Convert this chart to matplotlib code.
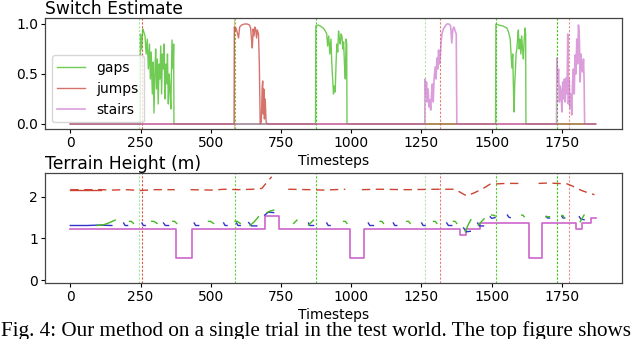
import matplotlib
matplotlib.use("Agg")
import matplotlib.pyplot as plt
import numpy as np

nan = np.nan

# ---- switch estimate (top) ----
gaps_t = [0, 249,
          250, 254, 258, 262, 266, 270, 274, 278, 282, 285, 288, 292, 295, 298, 301, 304,
          307, 310, 313, 316, 319, 322, 325, 328, 331, 334, 337, 340, 343, 346, 349, 352,
          355, 358, 362, 366, 368, 369,
          873, 874, 882, 890, 900, 908, 913, 916, 920, 924, 928, 931, 934, 937, 940, 943,
          946, 949, 952, 955, 958, 961, 964, 967, 970, 973, 976, 979, 982, 984, 985,
          1514, 1515, 1525, 1540, 1554, 1560, 1566, 1572, 1575, 1578, 1580, 1582, 1584,
          1587, 1590, 1593, 1595, 1598, 1601, 1604, 1607, 1610, 1613, 1616, 1619, 1621, 1622,
          1870]
gaps_v = [0, 0,
          0.90, 0.75, 0.95, 0.92, 0.88, 0.70, 0.85, 0.55, 0.80, 0.45, 0.72, 0.30, 0.62, 0.11, 0.50, 0.75,
          0.35, 0.65, 0.20, 0.60, 0.45, 0.78, 0.30, 0.70, 0.55, 0.80, 0.25, 0.60, 0.40, 0.70, 0.20, 0.50,
          0.35, 0.15, 0.84, 0.55, 0.80, 0,
          0, 0.98, 0.99, 0.98, 0.96, 0.93, 0.90, 0.78, 0.88, 0.70, 0.85, 0.60, 0.45, 0.30, 0.38, 0.32,
          0.60, 0.80, 0.72, 0.93, 0.85, 0.80, 0.90, 0.88, 0.75, 0.82, 0.60, 0.45, 0.85, 0.80, 0,
          0, 1.00, 0.99, 0.98, 0.96, 0.92, 0.85, 0.56, 0.70, 0.30, 0.12, 0.40, 0.50,
          0.70, 0.76, 0.88, 0.94, 0.75, 0.85, 0.70, 0.88, 0.75, 0.65, 0.85, 0.96, 0.90, 0,
          0]

jumps_t = [0, 583, 584, 587, 590, 594, 599, 603, 610, 620, 630, 638, 642, 645, 648, 651,
           654, 657, 660, 663, 666, 670, 673, 676, 680, 683, 685, 687, 689, 691, 694, 697,
           701, 1870]
jumps_v = [0, 0, 0.97, 0.93, 0.96, 0.92, 0.86, 0.97, 0.99, 1.00, 1.00, 0.99, 0.96, 0.85, 0.76, 0.95,
           0.88, 0.97, 0.95, 0.86, 0.94, 0.90, 0.60, 0.0, 0.02, 0.36, 0.43, 0.10, 0.35, 0.05, 0.25, 0.02,
           0, 0]

stairs_t = [0, 1262, 1263, 1266, 1268, 1271, 1274, 1277, 1280, 1283, 1286, 1289, 1292, 1295,
            1299, 1302, 1305, 1308, 1311, 1314, 1317, 1320, 1323, 1328, 1333, 1340, 1348,
            1354, 1358, 1362, 1366, 1370, 1374, 1376,
            1731, 1732, 1735, 1738, 1741, 1744, 1747, 1750, 1753, 1756, 1759, 1762, 1765,
            1768, 1771, 1773, 1776, 1779, 1782, 1785, 1788, 1791, 1794, 1797, 1800, 1803,
            1806, 1809, 1812, 1815, 1818, 1821, 1824, 1827, 1829, 1831, 1870]
stairs_v = [0, 0, 0.45, 0.28, 0.42, 0.22, 0.35, 0.17, 0.24, 0.14, 0.30, 0.40, 0.22, 0.45,
            0.57, 0.45, 0.66, 0.55, 0.74, 0.60, 0.67, 0.82, 0.90, 0.95, 0.97, 1.00, 1.00,
            0.98, 0.81, 0.95, 0.97, 0.93, 0.90, 0,
            0, 0.66, 0.42, 0.55, 0.22, 0.38, 0.32, 0.12, 0.42, 0.25, 0.45, 0.22, 0.46,
            0.30, 0.90, 0.20, 0.45, 0.16, 0.30, 0.09, 0.42, 0.55, 0.30, 0.69, 0.50, 0.85,
            0.60, 0.99, 0.89, 0.42, 0.70, 0.55, 0.52, 0.65, 0.45, 0, 0]

# ---- terrain height (bottom) ----
terrain_t = [0, 376, 433, 692, 744, 994, 1046, 1386, 1408, 1458, 1632, 1679, 1802, 1821, 1855, 1870]
terrain_v = [1.22, 0.52, 1.22, 1.54, 1.22, 0.52, 1.22, 1.08, 1.22, 1.38, 0.52, 1.38, 1.22, 1.38, 1.50, 1.50]

upper_t = [0, 110, 150, 200, 250, 300, 372, nan, 428, 500, 550, 600, 650, 682, 700, 717, nan,
           776, 850, 900, 979, nan, 1038, 1100, 1200, 1300, 1370, 1390, 1411, 1440, 1470, 1494,
           1550, 1607, nan, 1667, 1700, 1768, 1790, 1820, 1850, 1866]
upper_v = [2.17, 2.17, 2.16, 2.17, 2.15, 2.17, 2.17, nan, 2.17, 2.16, 2.18, 2.17, 2.18, 2.20, 2.35, 2.48, nan,
           2.18, 2.17, 2.16, 2.18, nan, 2.17, 2.18, 2.17, 2.18, 2.18, 2.10, 2.02, 2.10, 2.20, 2.30,
           2.32, 2.32, nan, 2.32, 2.33, 2.31, 2.25, 2.15, 2.08, 2.05]

blue_t = [0, 60, 100, 148, nan,
          190, 195, 204, nan, 255, 260, 267, nan, 332, 338, 350, nan, 441, 446, 457, nan,
          546, 551, 558, nan, 592, 597, 605, nan, 635, 645, 664, nan, 692, 705, 724, nan,
          848, 853, 866, nan, 913, 918, 925, nan, 1061, 1066, 1079, nan, 1150, 1155, 1162, nan,
          1251, 1256, 1263, nan, 1340, 1346, 1358, nan, 1400, 1410, 1424, nan, 1450, 1456, 1471, nan,
          1495, 1500, 1512, nan, 1556, 1561, 1566, nan, 1694, 1699, 1706, nan, 1750, 1754, 1760, nan,
          1812, 1818, 1829]
blue_v = [1.31, 1.31, 1.32, 1.31, nan,
          1.37, 1.31, 1.31, nan, 1.37, 1.31, 1.31, nan, 1.37, 1.31, 1.31, nan, 1.37, 1.31, 1.31, nan,
          1.37, 1.31, 1.31, nan, 1.37, 1.31, 1.31, nan, 1.38, 1.30, 1.30, nan, 1.56, 1.63, 1.62, nan,
          1.37, 1.31, 1.31, nan, 1.37, 1.31, 1.31, nan, 1.37, 1.31, 1.31, nan, 1.37, 1.31, 1.31, nan,
          1.37, 1.31, 1.31, nan, 1.37, 1.31, 1.31, nan, 1.25, 1.16, 1.17, nan, 1.37, 1.30, 1.30, nan,
          1.52, 1.48, 1.50, nan, 1.56, 1.51, 1.50, nan, 1.53, 1.49, 1.49, nan, 1.53, 1.49, 1.49, nan,
          1.52, 1.46, 1.45]

green_t = [95, 120, 140, 160, nan,
           211, 217, 225, nan, 290, 297, 309, nan, 365, 371, 379, nan, 492, 499, 510, nan,
           587, 594, 605, nan, 640, 655, 670, nan, 700, 712, 724, nan, 795, 801, 807, nan,
           848, 857, 866, nan, 973, 979, 985, nan, 1103, 1109, 1115, nan, 1198, 1204, 1210, nan,
           1293, 1299, 1305, nan, 1364, 1370, 1376, nan, 1406, 1416, 1426, nan, 1453, 1463, 1473, nan,
           1500, 1506, 1512, nan, 1607, 1611, 1616, nan, 1694, 1700, 1706, nan, 1750, 1754, 1758, nan,
           1815, 1822, 1829]
green_v = [1.31, 1.33, 1.38, 1.44, nan,
           1.41, 1.41, 1.36, nan, 1.41, 1.41, 1.36, nan, 1.41, 1.41, 1.36, nan, 1.41, 1.41, 1.36, nan,
           1.41, 1.41, 1.36, nan, 1.31, 1.40, 1.52, nan, 1.62, 1.66, 1.68, nan, 1.36, 1.40, 1.44, nan,
           1.32, 1.38, 1.44, nan, 1.41, 1.41, 1.36, nan, 1.41, 1.41, 1.36, nan, 1.41, 1.41, 1.36, nan,
           1.41, 1.41, 1.36, nan, 1.41, 1.41, 1.36, nan, 1.16, 1.32, 1.45, nan, 1.32, 1.40, 1.47, nan,
           1.56, 1.56, 1.54, nan, 1.56, 1.56, 1.52, nan, 1.52, 1.52, 1.52, nan, 1.55, 1.55, 1.50, nan,
           1.40, 1.48, 1.56]

# switch times
switch_green = [243, 587, 874, 1263, 1515, 1732]
switch_red = [255, 1317, 1775]
green_alpha = [0.45, 0.8, 0.9, 0.4, 0.9, 1.0]
red_alpha = [0.9, 0.7, 0.6]

c_gaps = "#4cbf2a"
c_jumps = "#c8443a"
c_stairs = "#c45ec4"

fig = plt.figure(figsize=(6.4, 3.39), dpi=100)
ax1 = fig.add_axes([45 / 640, 1 - 129 / 339, 577 / 640, 111 / 339])
ax2 = fig.add_axes([45 / 640, 1 - 283 / 339, 577 / 640, 110 / 339])

for ax in (ax1, ax2):
    for x, a in zip(switch_green, green_alpha):
        ax.axvline(x, color="#33cc11", lw=0.8, alpha=a, dashes=(2, 1.5))
    for x, a in zip(switch_red, red_alpha):
        ax.axvline(x, color="#dd4433", lw=0.8, alpha=a, dashes=(2, 1.5))
ax1.axvline(582, color="#dd4433", lw=0.8, alpha=0.4)

ax1.plot(gaps_t, gaps_v, color=c_gaps, lw=1.0, alpha=0.8, label="gaps")
ax1.plot(jumps_t, jumps_v, color=c_jumps, lw=1.0, alpha=0.75, label="jumps")
ax1.plot(stairs_t, stairs_v, color=c_stairs, lw=1.2, alpha=0.6, label="stairs")

ax1.legend(loc="lower left", bbox_to_anchor=(0.012, 0.06), borderaxespad=0,
           fontsize=10, handlelength=2.0, framealpha=0.8)

ax1.set_xlim(-90, 1964)
ax1.set_ylim(-0.05, 1.06)
ax1.set_yticks([0.0, 0.5, 1.0])
ax1.set_title("Switch Estimate", loc="left", fontsize=12.3, pad=2)
ax1.set_xlabel("Timesteps", fontsize=10, labelpad=3)

ax2.plot(terrain_t, terrain_v, color="#cc66cc", lw=1.2, drawstyle="steps-post")
ax2.plot(upper_t, upper_v, color="#cc4433", lw=1.0, dashes=(6, 4))
ax2.plot(upper_t[:2], upper_v[:2], color="#cc4433", lw=1.0)
ax2.plot(blue_t, blue_v, color="#3333cc", lw=1.0)
ax2.plot(green_t, green_v, color="#44bb22", lw=1.0)

ax2.set_xlim(-90, 1964)
ax2.set_ylim(-0.07, 2.57)
ax2.set_yticks([0, 1, 2])
ax2.set_title("Terrain Height (m)", loc="left", fontsize=12.3, pad=2)
ax2.set_xlabel("Timesteps", fontsize=10, labelpad=3)

for ax in (ax1, ax2):
    ax.set_xticks([0, 250, 500, 750, 1000, 1250, 1500, 1750])
    ax.tick_params(labelsize=10, length=3, pad=2)
    for s in ax.spines.values():
        s.set_color("#444444")
        s.set_linewidth(0.9)

fig.text(0.002, 0.01, "Fig. 4: Our method on a single trial in the test world. The top figure shows",
         family="Liberation Serif", fontsize=15.2, va="baseline")

fig.savefig("out.png", dpi=100)
